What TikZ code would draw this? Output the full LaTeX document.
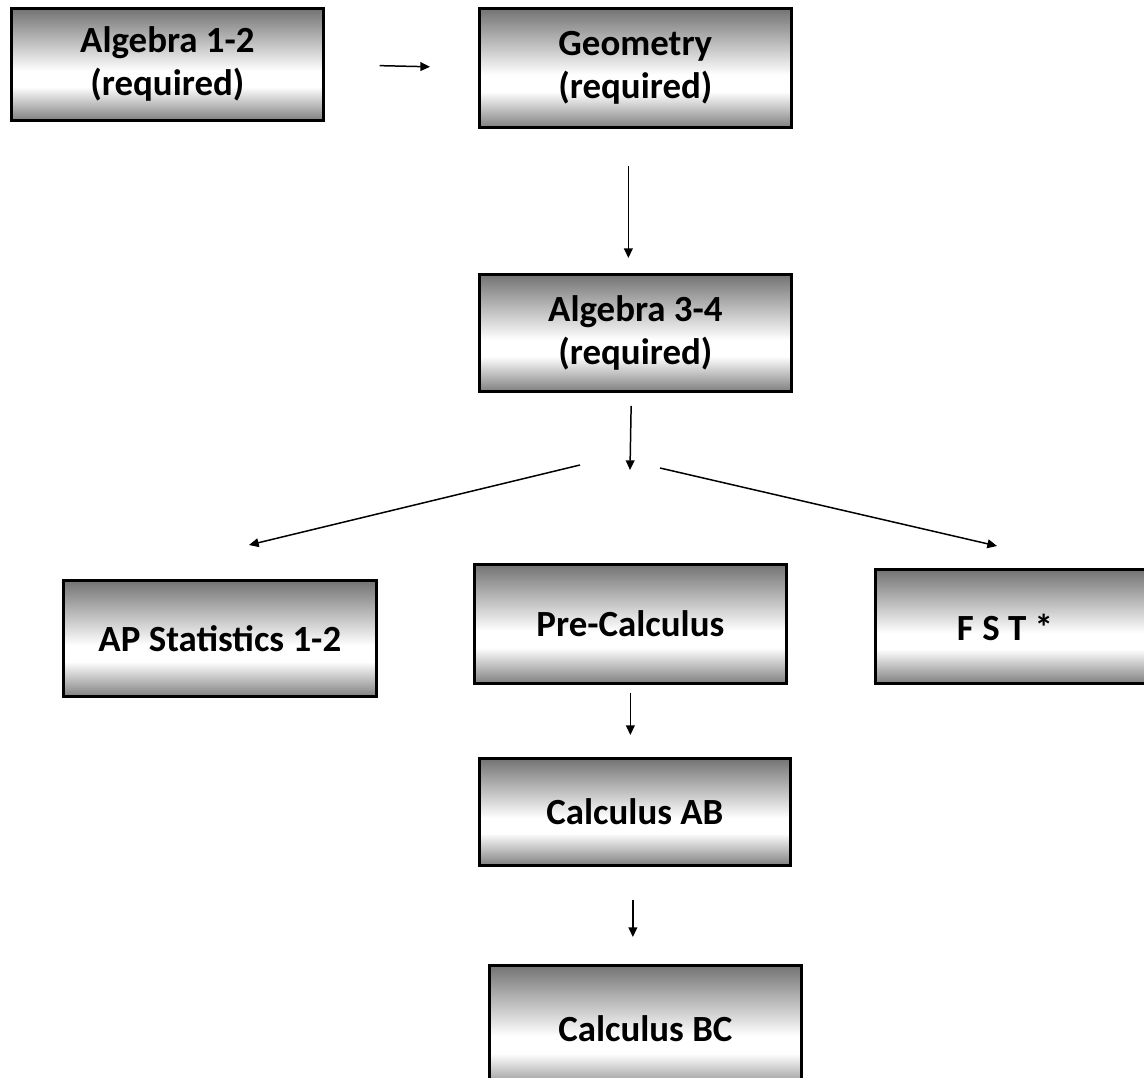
\documentclass[tikz,border=0pt]{standalone}
\usepackage{fontspec}
\setmainfont{Carlito}
\usetikzlibrary{arrows.meta}

\pgfdeclareverticalshading{boxshade}{100bp}{color(0bp)=(black!50); color(25bp)=(black!50); color(40bp)=(white); color(47bp)=(white); color(75bp)=(black!55); color(100bp)=(black!55)}

\begin{document}
\begin{tikzpicture}[x=0.02cm,y=-0.02cm,
  course/.style={draw,line width=1.6pt,shading=boxshade,anchor=north west,inner sep=0pt,align=center,
    font=\fontsize{21}{24.5}\selectfont\bfseries},
  coursetext/.style={inner sep=0pt,font=\fontsize{21}{24.5}\selectfont\bfseries},
  arr/.style={line width=0.85pt,-{Triangle[length=5.5pt,width=5pt]}}]

\useasboundingbox (0,0) rectangle (1144,1078);
\clip (0,0) rectangle (1144,1078);

%algebra 1-2
\node[course,minimum width=6.24cm,minimum height=2.24cm] (alg12) at (10,7) {Algebra 1-2\\(required)};
%geometry
\node[course,minimum width=6.24cm,minimum height=2.38cm] (geo) at (478,7) {Geometry\\(required)};
%algebra 3-4
\node[course,minimum width=6.24cm,minimum height=2.34cm] (alg34) at (478,273) {Algebra 3-4\\(required)};
%ap statistics
\node[course,minimum width=6.26cm,minimum height=2.32cm] (stats) at (62,579) {AP Statistics 1-2};
%pre-calculus
\node[course,minimum width=6.24cm,minimum height=2.38cm] (precalc) at (473,563) {Pre-Calculus};
%fst (runs off the page)
\node[course,minimum width=6.6cm,minimum height=2.28cm] (fst) at (874,568) {};
\node[coursetext] (fstlabel) at (1005,627) {F S T *};
%calculus ab
\node[course,minimum width=6.22cm,minimum height=2.14cm] (calcab) at (478,757) {Calculus AB};
%calculus bc (runs off the page)
\node[course,minimum width=6.24cm,minimum height=2.52cm] (calcbc) at (488,964) {Calculus BC};

%fork below algebra 3-4
\coordinate (fork) at (630,470);
\coordinate (leftfrom) at (580,465);
\coordinate (leftto) at (249,545);
\coordinate (rightfrom) at (660,468);
\coordinate (rightto) at (997,546);

%arrows
\draw[arr,shorten <=1.1cm,shorten >=0.96cm] (alg12.east) -- (geo.west);
\draw[arr,shorten <=0.74cm,shorten >=0.3cm] ([xshift=-0.14cm]geo.south) -- ([xshift=-0.14cm]alg34.north);
\draw[arr,shorten <=0.26cm] ([xshift=-0.08cm]alg34.south) -- (fork);
\draw[arr] (leftfrom) -- (leftto);
\draw[arr] (rightfrom) -- (rightto);
\draw[arr,shorten <=0.16cm,shorten >=0.44cm] (precalc.south) -- (precalc.south |- calcab.north);
\draw[arr,shorten <=0.66cm,shorten >=0.54cm] ([xshift=-0.04cm]calcab.south) -- ([xshift=-0.04cm]calcab.south |- calcbc.north);

\end{tikzpicture}
\end{document}
